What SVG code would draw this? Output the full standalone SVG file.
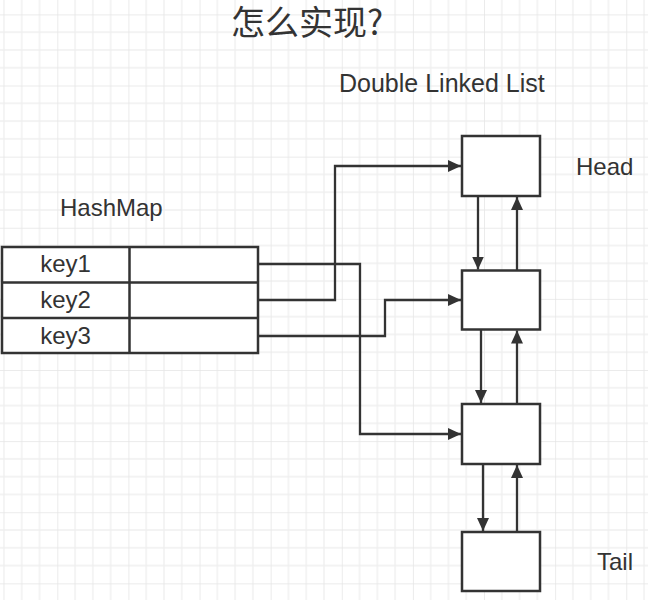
<svg xmlns="http://www.w3.org/2000/svg" width="648" height="600" viewBox="0 0 648 600">
<defs>
<pattern id="grid" patternUnits="userSpaceOnUse" x="57.3" y="14.4" width="71.12" height="71.12">
<path d="M17.78,0V71.12M35.56,0V71.12M53.34,0V71.12M0,17.78H71.12M0,35.56H71.12M0,53.34H71.12" stroke="#efefef" stroke-width="1.3" fill="none"/>
<path d="M0,0V71.12M0,0H71.12" stroke="#e5e5e5" stroke-width="1.5" fill="none"/>
</pattern>
<marker id="arr" markerUnits="userSpaceOnUse" markerWidth="14" markerHeight="12" viewBox="0 0 14 12" refX="13" refY="6" orient="auto">
<path d="M0,0 L13,6 L0,12 Z" fill="#333"/>
</marker>
</defs>
<style>
.t{font-family:"Liberation Sans","Noto Sans",Arial,sans-serif;font-size:24px;fill:#333}
.c{font-family:"Noto Sans CJK SC","Liberation Sans",sans-serif;font-size:34px;fill:#333}
.box{fill:#fff;stroke:#333;stroke-width:2.5}
.ln{fill:none;stroke:#333;stroke-width:2.3;marker-end:url(#arr)}
</style>
<rect width="648" height="600" fill="#fff"/>
<rect width="648" height="600" fill="url(#grid)"/>

<text class="c" x="231" y="35">怎么实现?</text>
<text class="t" x="339" y="92" style="font-size:25px">Double Linked List</text>
<text class="t" x="60" y="216">HashMap</text>
<text class="t" x="576" y="175">Head</text>
<text class="t" x="597" y="570">Tail</text>

<g id="hashmap">
<rect class="box" x="2" y="247" width="256" height="106"/>
<path d="M2,282.5H258M2,318H258M129.5,247V353" stroke="#333" stroke-width="2.5" fill="none"/>
<text class="t" x="65.5" y="272" text-anchor="middle">key1</text>
<text class="t" x="65.5" y="308" text-anchor="middle">key2</text>
<text class="t" x="65.5" y="344" text-anchor="middle">key3</text>
</g>

<g id="node1"><rect class="box" x="462" y="136" width="78" height="60"/></g>
<g id="node2"><rect class="box" x="462" y="270.5" width="78" height="59"/></g>
<g id="node3"><rect class="box" x="462" y="404" width="78" height="60"/></g>
<g id="node4"><rect class="box" x="462" y="532" width="78" height="59"/></g>

<g id="connectors">
<path class="ln" d="M258,264H360V434H461"/>
<path class="ln" d="M258,300H335V166H461"/>
<path class="ln" d="M258,336H385V300H461"/>
<path class="ln" d="M478,196V269.5"/>
<path class="ln" d="M517,270.5V197"/>
<path class="ln" d="M481,329.5V403"/>
<path class="ln" d="M517,404V330.5"/>
<path class="ln" d="M483,464V531"/>
<path class="ln" d="M517,532V465"/>
</g>
</svg>
